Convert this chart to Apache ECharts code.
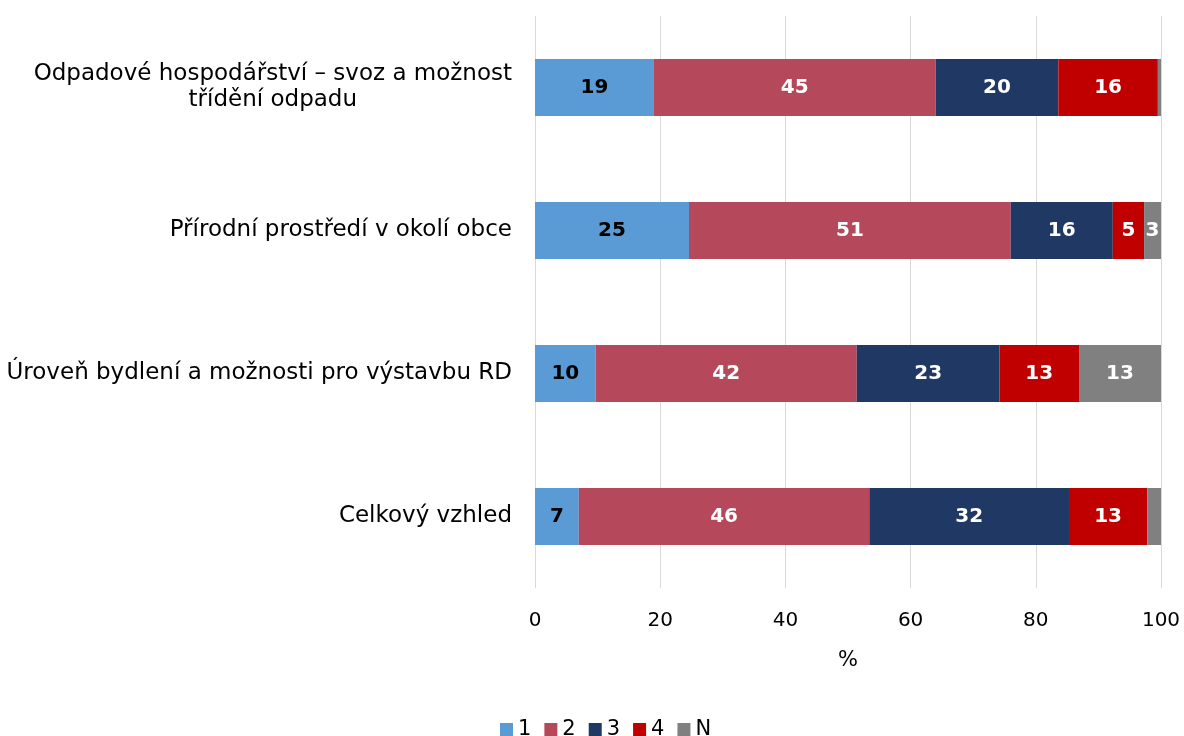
<!DOCTYPE html>
<html><head><meta charset="utf-8">
<script src="https://cdn.jsdelivr.net/npm/echarts@6/dist/echarts.min.js"></script>
<style>html,body{margin:0;padding:0;background:#fff}#c{width:1184px;height:736px}</style>
</head><body><div id="c"></div>
<script>
const categories = [
  'Odpadové hospodářství – svoz a možnost\ntřídění odpadu',
  'Přírodní prostředí v okolí obce',
  'Úroveň bydlení a možnosti pro výstavbu RD',
  'Celkový vzhled'
];
const seriesNames = ['1', '2', '3', '4', 'N'];
const s1 = [19.0, 24.6, 9.7, 7.0];
const s2 = [45.0, 51.4, 41.7, 46.4];
const s3 = [19.6, 16.3, 22.8, 31.9];
const s4 = [15.9, 5.0, 12.7, 12.5];
const sN = [0.5, 2.7, 13.1, 2.2];
const xTicks = [0, 20, 40, 60, 80, 100];
const colors = ['#5B9BD5', '#B5495B', '#203864', '#C00000', '#808080'];
const labelColors = ['#000', '#fff', '#fff', '#fff', '#fff'];
const FONT = 'DejaVu Sans';

const rev = a => a.slice().reverse();
const allData = [s1, s2, s3, s4, sN];
const chart = echarts.init(document.getElementById('c'), null, {renderer: 'canvas'});
chart.setOption({
  animation: false,
  textStyle: {fontFamily: FONT},
  color: colors,
  grid: {left: 535, right: 23, top: 16, bottom: 148, containLabel: false},
  legend: {
    top: 714, left: 495, itemWidth: 13, itemHeight: 13, itemGap: 13,
    icon: 'rect',
    textStyle: {fontFamily: FONT, fontSize: 21, color: '#000'},
    data: seriesNames
  },
  xAxis: {
    type: 'value', min: xTicks[0], max: xTicks[xTicks.length - 1], interval: 20,
    name: '%', nameLocation: 'middle', nameGap: 62,
    nameTextStyle: {fontFamily: FONT, fontSize: 21, color: '#000'},
    axisLine: {show: false}, axisTick: {show: false},
    axisLabel: {fontFamily: FONT, fontSize: 20, color: '#000', margin: 23},
    splitLine: {show: true, lineStyle: {color: '#d9d9d9', width: 1}}
  },
  yAxis: {
    type: 'category', data: rev(categories),
    axisLine: {show: false}, axisTick: {show: false},
    axisLabel: {
      margin: 23, fontFamily: FONT, fontSize: 23, color: '#000', lineHeight: 26,
      formatter: v => v.split('\n').map(l => '{c|' + l + '}').join('\n'),
      rich: {c: {align: 'center', fontFamily: FONT, fontSize: 23, color: '#000', lineHeight: 26}}
    }
  },
  series: seriesNames.map((n, i) => ({
    name: n, type: 'bar', stack: 'total', barWidth: 57,
    data: rev(allData[i]),
    itemStyle: {color: colors[i]},
    label: {
      show: true, position: 'inside', fontFamily: FONT, fontSize: 20, fontWeight: 'bold',
      color: labelColors[i],
      formatter: p => p.value >= 2.5 ? Math.round(p.value) : ''
    }
  }))
});
</script></body></html>
